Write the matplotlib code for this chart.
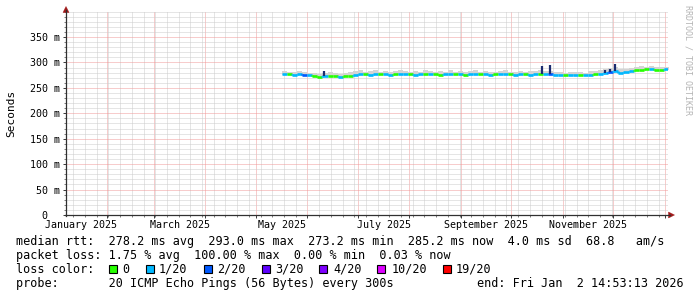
import matplotlib
matplotlib.use('Agg')
import matplotlib.pyplot as plt
import matplotlib.dates as mdates
import matplotlib.transforms as mtransforms
from matplotlib.collections import LineCollection
from matplotlib.patches import Rectangle, Polygon
from matplotlib.lines import Line2D
from matplotlib.ticker import FixedLocator, MultipleLocator, NullFormatter
import numpy as np
import pandas as pd

W, H = 697, 297
FONT = 'DejaVu Sans Mono'
FS = 8.5       # legend font
FS_AX = 7.2    # axis font
plt.rcParams['font.family'] = [FONT, 'DejaVu Sans']
plt.rcParams['font.size'] = FS

# ---------------- data ----------------
start = pd.Timestamp('2025-01-07 14:53:13')
end = pd.Timestamp('2026-01-02 14:53:13')

month_labels = ['January 2025', 'March 2025', 'May 2025', 'July 2025',
                'September 2025', 'November 2025']
label_months = ['2025-01', '2025-03', '2025-05', '2025-07', '2025-09', '2025-11']

y_ticks = [0, 50, 100, 150, 200, 250, 300, 350]
y_labels = ['0  ', '50 m', '100 m', '150 m', '200 m', '250 m', '300 m', '350 m']

data_start = '2025-05-17'
median_ms = [277, 277, 276, 277, 276, 275, 273, 272, 273, 274,
             273, 272, 273, 274, 276, 277, 277, 276, 278, 277,
             277, 276, 277, 278, 277, 277, 276, 277, 278, 277,
             277, 276, 277, 278, 277, 277, 276, 277, 278, 277,
             277, 276, 277, 277, 278, 277, 276, 277, 277, 276,
             277, 278, 277, 277, 276, 275, 275, 276, 275, 276,
             275, 276, 277, 278, 279, 281, 283, 280, 281, 283,
             285, 286, 287, 288, 286, 286, 287]
loss_idx = [1, 0, 1, 1, 2, 1, 0, 0, 1, 0,
            0, 1, 0, 0, 1, 1, 0, 1, 1, 0,
            1, 1, 0, 1, 1, 0, 1, 1, 0, 1,
            0, 0, 1, 1, 0, 1, 0, 1, 1, 0,
            1, 1, 0, 1, 1, 0, 1, 1, 0, 1,
            1, 0, 1, 2, 1, 1, 0, 1, 1, 0,
            1, 1, 0, 1, 1, 2, 1, 1, 1, 1,
            0, 0, 0, 1, 0, 0, 1]
smoke_lo = [275, 275, 274, 275, 274, 273, 271, 270, 271, 272,
            271, 270, 271, 272, 274, 275, 275, 274, 276, 275,
            275, 274, 275, 276, 275, 275, 274, 275, 276, 275,
            275, 274, 275, 276, 275, 275, 274, 275, 276, 275,
            275, 274, 275, 275, 276, 275, 274, 275, 275, 274,
            275, 276, 275, 275, 274, 273, 273, 274, 273, 274,
            273, 274, 275, 276, 277, 279, 281, 278, 279, 281,
            283, 284, 285, 286, 284, 284, 285]
smoke_hi = [284, 282, 281, 283, 281, 280, 279, 278, 280, 282,
            279, 278, 280, 281, 283, 285, 282, 283, 286, 282,
            284, 282, 283, 286, 283, 282, 284, 282, 286, 283,
            282, 283, 282, 285, 282, 284, 282, 283, 285, 282,
            283, 282, 282, 283, 285, 282, 282, 283, 282, 283,
            284, 285, 283, 284, 282, 281, 280, 282, 281, 281,
            280, 283, 284, 285, 287, 289, 291, 287, 288, 290,
            292, 293, 292, 294, 291, 292, 292]

spike_dates = ['2025-06-11', '2025-10-19', '2025-10-24', '2025-11-26',
               '2025-11-29', '2025-12-02']
spike_base = [273, 277, 277, 279, 281, 283]
spike_top = [284, 293, 295, 286, 287, 297]

loss_names = ['0', '1/20', '2/20', '3/20', '4/20', '10/20', '19/20']
loss_colors = ['#26ff00', '#00b8ff', '#0059ff', '#5e00ff', '#7e00ff',
               '#dd00ff', '#ff0000']

stats_line1 = 'median rtt:  278.2 ms avg  293.0 ms max  273.2 ms min  285.2 ms now  4.0 ms sd  68.8   am/s'
stats_line2 = 'packet loss: 1.75 % avg  100.00 % max  0.00 % min  0.03 % now'
probe_line = 'probe:       20 ICMP Echo Pings (56 Bytes) every 300s'
end_text = 'end: Fri Jan  2 14:53:13 2026'

# ---------------- figure ----------------
fig = plt.figure(figsize=(W / 100, H / 100), dpi=100, facecolor='white')

def fx(x):
    return x / W

def fy(y):
    return 1 - y / H

ax_l, ax_r, ax_t, ax_b = 66, 668, 11.6, 215
ax = fig.add_axes([fx(ax_l), fy(ax_b), (ax_r - ax_l) / W, (ax_b - ax_t) / H])
ax.set_facecolor('white')

dates = pd.date_range(data_start, periods=len(median_ms), freq='3D')
dn = mdates.date2num(dates)
step_days = 3.0
med = np.array(median_ms, dtype=float)

# smoke
xs, lo, hi = [], [], []
for i in range(len(dn)):
    xs += [dn[i], dn[i] + step_days]
    lo += [smoke_lo[i], smoke_lo[i]]
    hi += [smoke_hi[i], smoke_hi[i]]
ax.fill_between(xs, lo, hi, color='#d4d4d4', lw=0, zorder=2)

# median line coloured by loss
segs, cols = [], []
for i in range(len(dn)):
    x0, x1 = dn[i], dn[i] + step_days
    if i > 0:
        segs.append([(x0, med[i - 1]), (x0, med[i])])
        cols.append(loss_colors[loss_idx[i]])
    segs.append([(x0, med[i]), (x1, med[i])])
    cols.append(loss_colors[loss_idx[i]])
ax.add_collection(LineCollection(segs, colors=cols, linewidths=1.9,
                                 capstyle='butt', zorder=4))

# spikes
sd = mdates.date2num(pd.to_datetime(spike_dates))
ax.vlines(sd, spike_base, spike_top, colors='#1c2c70', linewidth=1.6, zorder=5)

ax.set_xlim(mdates.date2num(start), mdates.date2num(end))
ax.set_ylim(0, 400)

ax.xaxis.set_major_locator(mdates.MonthLocator())
ax.xaxis.set_minor_locator(mdates.WeekdayLocator(byweekday=mdates.SU))
ax.xaxis.set_major_formatter(NullFormatter())
ax.yaxis.set_major_locator(FixedLocator(y_ticks))
ax.set_yticklabels(y_labels)
ax.yaxis.set_minor_locator(MultipleLocator(10))

dots = (0, (1, 1))
ax.grid(which='minor', color='#cdcdcd', linestyle=dots, linewidth=0.72, zorder=0)
ax.grid(which='major', color='#f09a9a', linestyle=dots, linewidth=0.72, zorder=1)
ax.set_axisbelow(True)

for s in ['top', 'right', 'left', 'bottom']:
    ax.spines[s].set_visible(False)

ax.tick_params(which='major', direction='out', length=2.2, width=0.72,
               color='#404040', pad=2.4, labelsize=FS_AX, labelcolor='black')
ax.tick_params(which='minor', direction='out', length=1.4, width=0.72,
               color='#808080')

# axis lines with arrows
fig.add_artist(Line2D([fx(ax_l), fx(ax_l)], [fy(ax_b + 1), fy(10)],
                      color='#303030', lw=0.9, transform=fig.transFigure))
fig.add_artist(Line2D([fx(ax_l - 1), fx(670)], [fy(ax_b), fy(ax_b)],
                      color='#303030', lw=0.9, transform=fig.transFigure))
arrow_col = '#a01818'
fig.add_artist(Polygon([(fx(ax_l), fy(6.5)), (fx(ax_l - 3), fy(12.5)),
                        (fx(ax_l + 3), fy(12.5))], closed=True,
                       facecolor=arrow_col, edgecolor=arrow_col, lw=0.3,
                       transform=fig.transFigure))
fig.add_artist(Polygon([(fx(674.5), fy(ax_b)), (fx(668.5), fy(ax_b - 3)),
                        (fx(668.5), fy(ax_b + 3))], closed=True,
                       facecolor=arrow_col, edgecolor=arrow_col, lw=0.3,
                       transform=fig.transFigure))

# month labels centered in the month
trans = mtransforms.blended_transform_factory(ax.transData, ax.transAxes)
for lab, m in zip(month_labels, label_months):
    m0 = pd.Timestamp(m + '-01')
    m1 = m0 + pd.offsets.MonthBegin(1)
    mid = mdates.date2num(m0) + (mdates.date2num(m1) - mdates.date2num(m0)) / 2
    ax.annotate(lab, xy=(mid, 0), xycoords=trans, xytext=(0, -3.7),
                textcoords='offset points', ha='center', va='top',
                fontsize=FS_AX, color='black', annotation_clip=False)

# y axis title
fig.text(fx(11), fy(113), 'Seconds', rotation=90, ha='center', va='center',
         fontsize=8.0, color='black')

# watermark
fig.text(fx(688), fy(5), 'RRDTOOL / TOBI OETIKER', rotation=270,
         ha='center', va='top', fontsize=6.0, color='#b4b4b4')

# legend text
fig.text(fx(16), fy(245), stats_line1, ha='left', va='baseline', fontsize=FS)
fig.text(fx(16), fy(259), stats_line2, ha='left', va='baseline', fontsize=FS)
fig.text(fx(16), fy(273), 'loss color:', ha='left', va='baseline', fontsize=FS)
sq_x = [109, 146, 204, 262, 319, 377, 443]
lab_x = [122, 159, 217, 275, 333, 392, 456]
for name, col, sx, lx in zip(loss_names, loss_colors, sq_x, lab_x):
    fig.add_artist(Rectangle((fx(sx), fy(273)), 8 / W, 8 / H,
                             facecolor=col, edgecolor='black', lw=0.8,
                             transform=fig.transFigure))
    fig.text(fx(lx), fy(273), name, ha='left', va='baseline', fontsize=FS)
fig.text(fx(16), fy(287), probe_line, ha='left', va='baseline', fontsize=FS)
fig.text(fx(477), fy(287), end_text, ha='left', va='baseline', fontsize=FS)

fig.savefig('out.png', dpi=100, facecolor='white')
